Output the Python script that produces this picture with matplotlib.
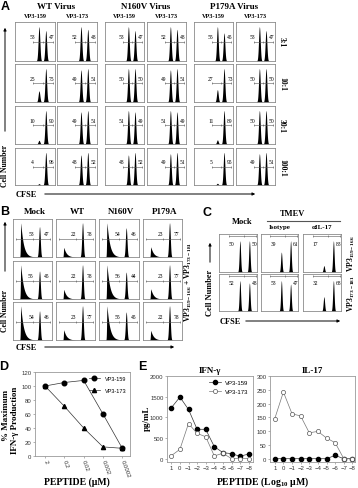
import numpy as np
import matplotlib
matplotlib.use('Agg')
import matplotlib.pyplot as plt
from matplotlib.patches import FancyArrowPatch

W, H = 358, 489
SERIF = 'Liberation Serif'
SANS = 'Liberation Sans'
plt.rcParams['mathtext.fontset'] = 'custom'
plt.rcParams['mathtext.rm'] = 'Liberation Serif:bold'
plt.rcParams['mathtext.default'] = 'rm'

# panel A: % of cells in left / right gate
a_viruses = ['WT Virus', 'N160V Virus', 'P179A Virus']
a_peptides = ['VP3-159', 'VP3-173']
a_ratios = ['3:1', '10:1', '30:1', '100:1']
a_left = [[53, 52, 53, 52, 55, 53],
          [25, 49, 50, 49, 27, 50],
          [10, 49, 51, 51, 11, 50],
          [4, 48, 48, 49, 5, 49]]
a_right = [[47, 48, 47, 48, 45, 47],
           [75, 51, 50, 51, 73, 50],
           [90, 51, 49, 49, 89, 50],
           [96, 52, 52, 51, 95, 51]]

# panel B
b_groups = ['Mock', 'WT', 'N160V', 'P179A']
b_left = [[53, 22, 54, 23], [55, 22, 56, 23], [54, 23, 55, 22]]
b_right = [[47, 78, 46, 77], [45, 78, 44, 77], [46, 77, 45, 78]]

# panel C
c_groups = ['Mock', 'Isotype', 'αIL-17']
c_rows = ['VP3$_{159-166}$', 'VP3$_{173-181}$']
c_left = [[50, 39, 17], [52, 53, 32]]
c_right = [[50, 61, 83], [48, 47, 68]]

# panel D
d_conc = ['2', '0.2', '0.02', '0.002', '0.0002']
d_vp159 = [100, 105, 108, 60, 11]
d_vp173 = [100, 71, 40, 13, 11]

# panel E
e_log = [1, 0, -1, -2, -3, -4, -5, -6, -7, -8]
e_ifn_159 = [1230, 1490, 1190, 710, 710, 290, 145, 120, 56, 113]
e_ifn_173 = [70, 225, 850, 610, 530, 65, 130, 0, 0, 0]
e_il17_159 = [0, 0, 0, 0, 0, 0, 0, 12, 0, 0]
e_il17_173 = [145, 242, 163, 155, 94, 99, 75, 58, 0, 0]

fig = plt.figure(figsize=(W / 100, H / 100), dpi=100)


def rect(x0, y0, x1, y1):
    return [x0 / W, 1 - y1 / H, (x1 - x0) / W, (y1 - y0) / H]


def ftext(x, y, s, size=6, family=SERIF, weight='bold', **kw):
    kw.setdefault('ha', 'center')
    kw.setdefault('va', 'center')
    fig.text(x / W, 1 - y / H, s, size=size, family=family, weight=weight, **kw)


def arrow(x0, y0, x1, y1):
    fig.add_artist(FancyArrowPatch((x0 / W, 1 - y0 / H), (x1 / W, 1 - y1 / H),
                                   transform=fig.transFigure, arrowstyle='-|>',
                                   mutation_scale=4, lw=0.7, color='k'))


xs = np.linspace(0, 1, 500)


def gauss(c, w):
    return np.exp(-((xs - c) / w) ** 2)


def skew(c):
    return np.where(xs < c, np.exp(-((xs - c) / 0.012) ** 2), np.exp(-(xs - c) / 0.07))


def hist_box(box, left, right, style):
    ax = fig.add_axes(rect(*box))
    ax.set_xlim(0, 1)
    ax.set_ylim(0, 1)
    ax.set_xticks([])
    ax.set_yticks([])
    for s in ax.spines.values():
        s.set_color('#8a8a8a')
        s.set_linewidth(0.6)
    top = max(left, right)
    if style == 'A':
        y = 0.88 * left / top * gauss(0.6, 0.03) + 0.88 * right / top * gauss(0.77, 0.03)
        gate = (0.5, 0.46, 0.69, 0.96)
        nums = ((0.43, 0.63), (0.92, 0.63))
    elif style == 'B':
        y = 0.9 * left / top * skew(0.2) + 0.9 * right / top * gauss(0.68, 0.028)
        gate = (0.48, 0.08, 0.5, 0.96)
        nums = ((0.46, 0.62), (0.86, 0.62))
    else:
        y = 0.82 * left / top * gauss(0.55, 0.026) + 0.82 * right / top * gauss(0.8, 0.026)
        gate = (0.95, 0.25, 0.66, 0.97)
        nums = ((0.33, 0.76), (0.93, 0.76))
    ax.fill_between(xs, 0, y, color='k', lw=0)
    gy, g0, gm, g1 = gate
    ax.plot([g0, g1], [gy, gy], color='#555555', lw=0.4)
    ax.plot([g0, gm, g1], [gy] * 3, ls='none', marker='|', ms=2, mew=0.4, color='#555555')
    ax.text(nums[0][0], nums[0][1], str(left), size=4, family=SERIF, ha='center', va='center')
    ax.text(nums[1][0], nums[1][1], str(right), size=4, family=SERIF, ha='center', va='center')


# ---------------- panel A ----------------
a_cols = [(15, 55), (57, 97), (105, 144), (147, 186), (194, 233), (236, 275)]
a_rows = [(23, 62), (65, 103), (107, 145), (149, 186)]
ftext(5, 7, 'A', size=9, family=SANS)
for i, name in enumerate(a_viruses):
    ftext((a_cols[2 * i][0] + a_cols[2 * i + 1][1]) / 2, 7, name, size=6.5)
for j, (x0, x1) in enumerate(a_cols):
    ftext((x0 + x1) / 2, 17, a_peptides[j % 2], size=4.5)
for r, (y0, y1) in enumerate(a_rows):
    for j, (x0, x1) in enumerate(a_cols):
        hist_box((x0, y0, x1, y1), a_left[r][j], a_right[r][j], 'A')
    ftext(282, (y0 + y1) / 2, a_ratios[r], size=5.5, rotation=270)
arrow(5, 135, 5, 26)
ftext(5, 166, 'Cell Number', size=5.5, rotation=90)
ftext(26, 195, 'CFSE', size=6)
arrow(42, 195, 258, 195)

# ---------------- panel B ----------------
b_cols = [(13, 52), (56, 95), (99, 139), (143, 182)]
b_rows = [(220, 258), (262, 300), (303, 341)]
ftext(5, 212, 'B', size=9, family=SANS)
for j, (x0, x1) in enumerate(b_cols):
    ftext((x0 + x1) / 2 + 2, 212, b_groups[j], size=6.5)
for r, (y0, y1) in enumerate(b_rows):
    for j, (x0, x1) in enumerate(b_cols):
        hist_box((x0, y0, x1, y1), b_left[r][j], b_right[r][j], 'B')
arrow(5, 275, 5, 220)
ftext(5, 311, 'Cell Number', size=5.5, rotation=90)
ftext(26, 348, 'CFSE', size=6)
arrow(42, 348, 177, 348)
ftext(188, 282, 'VP3$_{159-166}$ + VP3$_{173-181}$', size=5.5, rotation=90)

# ---------------- panel C ----------------
c_cols = [(219, 257), (261, 298), (303, 341)]
c_rows_y = [(235, 273), (275, 312)]
ftext(207, 213, 'C', size=9, family=SANS)
ftext(292, 214, 'TMEV', size=6)
fig.add_artist(plt.Line2D([267 / W, 340 / W], [1 - 221.5 / H] * 2, color='#555555', lw=0.8))
ftext(242, 222, 'Mock', size=6)
ftext(280, 228, 'Isotype', size=5)
ftext(322, 228, 'αIL-17', size=5)
for r, (y0, y1) in enumerate(c_rows_y):
    for j, (x0, x1) in enumerate(c_cols):
        hist_box((x0, y0, x1, y1), c_left[r][j], c_right[r][j], 'C')
    ftext(351, (y0 + y1) / 2, c_rows[r], size=5.5, rotation=90)
arrow(210, 266, 210, 241)
ftext(210, 293, 'Cell Number', size=6, rotation=90)
ftext(230, 322, 'CFSE', size=6)
arrow(243, 322, 343, 322)

# ---------------- panel D ----------------
ftext(4, 367, 'D', size=9, family=SANS)
axd = fig.add_axes(rect(35, 373, 130, 457))
xd = np.arange(len(d_conc))
axd.plot(xd, d_vp159, color='#333333', lw=0.5, marker='o', ms=3.3, mfc='k', mec='k', label='VP3-159')
axd.plot(xd, d_vp173, color='#333333', lw=0.5, marker='^', ms=3, mfc='k', mec='k', label='VP3-173')
axd.set_xlim(-0.52, 4.4)
axd.set_ylim(0, 120)
axd.set_yticks(range(0, 121, 20))
axd.set_xticks(xd)
axd.set_xticklabels(d_conc, rotation=-70, ha='left', va='center', rotation_mode='anchor')
axd.legend(loc='upper right', frameon=False, handlelength=2, borderaxespad=0.3,
           labelspacing=1.2, prop={'family': SANS, 'size': 4})
ftext(6, 415, '% Maximum', size=6.5, rotation=90)
ftext(15, 420, 'IFN-γ Production', size=6.5, rotation=90)
ftext(77, 482, 'PEPTIDE (μM)', size=7)

# ---------------- panel E ----------------
ftext(142, 367, 'E', size=9, family=SANS)
axe1 = fig.add_axes(rect(167, 377, 253, 463))
axe1.plot(e_log, e_ifn_159, color='#333333', lw=0.5, marker='o', ms=3, mfc='k', mec='k', label='VP3-159')
axe1.plot(e_log, e_ifn_173, color='#777777', lw=0.5, marker='o', ms=3, mfc='white', mec='#555555',
          mew=0.5, label='VP3-173')
axe1.set_xlim(1.5, -8.5)
axe1.set_ylim(-82, 2000)
axe1.set_yticks(range(0, 2001, 500))
axe1.set_xticks(e_log)
axe1.set_title('IFN-γ', family=SERIF, weight='bold', size=6.5, pad=3)
ftext(147, 418, 'pg/mL', size=6.5, rotation=90)
axe1.legend(loc='upper right', frameon=False, handlelength=2, borderaxespad=0.3, labelspacing=0.6,
            prop={'family': SANS, 'size': 4.3})

axe2 = fig.add_axes(rect(270, 377, 355, 463))
axe2.plot(e_log, e_il17_159, color='#333333', lw=0.5, marker='o', ms=3, mfc='k', mec='k')
axe2.plot(e_log, e_il17_173, color='#777777', lw=0.5, marker='o', ms=3, mfc='white', mec='#555555',
          mew=0.5)
axe2.set_xlim(1.55, -8.3)
axe2.set_ylim(-12, 300)
axe2.set_yticks(range(0, 301, 50))
axe2.set_xticks(e_log)
axe2.set_title('IL-17', family=SERIF, weight='bold', size=6.5, pad=3)
ftext(263, 482, 'PEPTIDE (Log$_{10}$ μM)', size=7)

for ax in (axd, axe1, axe2):
    for s in ax.spines.values():
        s.set_color('#9a9a9a')
        s.set_linewidth(0.6)
    ax.tick_params(labelsize=4.3, length=1.5, width=0.4, pad=1, color='#777777', labelcolor='#333333')
    for lab in ax.get_xticklabels() + ax.get_yticklabels():
        lab.set_family(SANS)

fig.savefig('out.png', dpi=100)
